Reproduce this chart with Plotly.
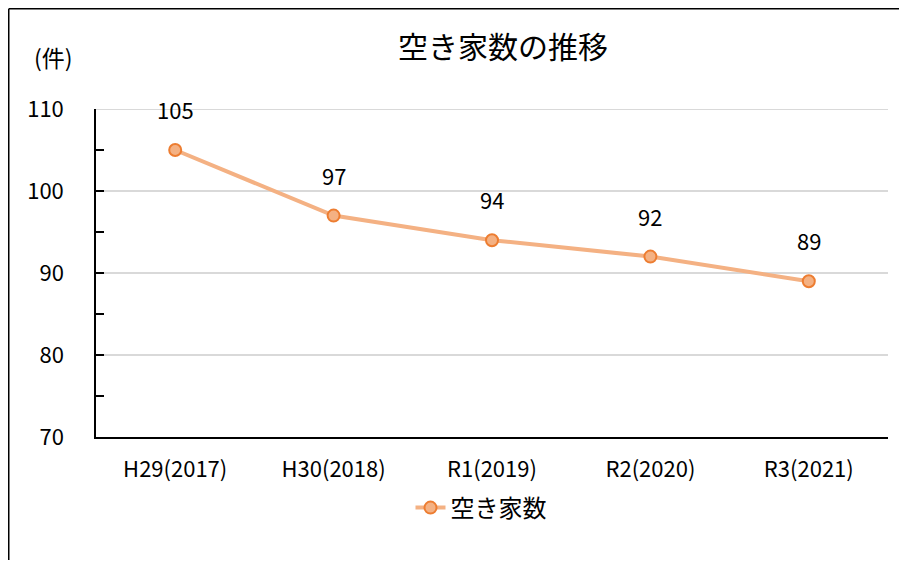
import plotly.graph_objects as go

categories = ["H29(2017)", "H30(2018)", "R1(2019)", "R2(2020)", "R3(2021)"]
values = [105, 97, 94, 92, 89]
series_name = "空き家数"
title_text = "空き家数の推移"
unit_text = "(件)"
y_min, y_max = 70, 110

FONT = "Noto Sans CJK JP"
OFF = 8  # page body margin
W, H = 891, 552
L, R, T = 96 - OFF, W - (888 - OFF), 109 - OFF
B = H - (437 - OFF)
pw, ph = W - L - R, H - T - B

def px_x(sx):
    return (sx - OFF - L) / pw

def px_y(sy):
    return (H - B - (sy - OFF)) / ph

fig = go.Figure()
fig.add_trace(go.Scatter(
    x=categories, y=values, name=series_name, mode="lines+markers",
    line=dict(color="#F4B183", width=4),
    marker=dict(size=12, color="#F4B183", line=dict(color="#ED7D31", width=2)),
))

for c, v in zip(categories, values):
    fig.add_annotation(x=c, y=v, text=str(v), showarrow=False, yshift=41,
                       font=dict(family=FONT, size=22, color="#000"))

fig.add_annotation(xref="paper", yref="paper", x=px_x(53), y=px_y(57), text=unit_text,
                   showarrow=False, xanchor="center", yanchor="middle",
                   font=dict(family=FONT, size=23, color="#000"))

# top gridline at the axis maximum
fig.add_shape(type="line", xref="paper", yref="y", x0=0, x1=1, y0=y_max, y1=y_max,
              line=dict(color="#D9D9D9", width=2), layer="below")

# outer frame (only top and left edges visible)
fig.add_shape(type="line", xref="paper", yref="paper", x0=px_x(8.75), x1=px_x(930),
              y0=px_y(8.75), y1=px_y(8.75), line=dict(color="#000", width=1.5))
fig.add_shape(type="line", xref="paper", yref="paper", x0=px_x(8.75), x1=px_x(8.75),
              y0=px_y(8.75), y1=px_y(600), line=dict(color="#000", width=1.5))

fig.update_layout(
    width=W, height=H, margin=dict(l=L, r=R, t=T, b=B),
    paper_bgcolor="white", plot_bgcolor="white",
    font=dict(family=FONT, size=22, color="#000"),
    title=dict(text=title_text, x=(503 - OFF) / W, xanchor="center",
               y=1 - (47.5 - OFF) / H, yanchor="middle",
               font=dict(family=FONT, size=30, color="#000")),
    showlegend=True,
    legend=dict(orientation="h", x=px_x(481), xanchor="center", y=px_y(508), yanchor="middle",
                font=dict(family=FONT, size=24, color="#000")),
    xaxis=dict(type="category", range=[-0.5, 4.5], showline=True, linecolor="#000", linewidth=1.5,
               showgrid=False, ticks="", tickfont=dict(family=FONT, size=22), ticklabelstandoff=12),
    yaxis=dict(range=[y_min, y_max], dtick=10, showline=True, linecolor="#000", linewidth=1.5,
               showgrid=True, gridcolor="#D9D9D9", gridwidth=2, zeroline=False,
               ticks="inside", ticklen=8, tickcolor="#000", tickwidth=1.5,
               minor=dict(dtick=5, ticks="inside", ticklen=8, tickcolor="#000", tickwidth=1.5, showgrid=False),
               tickfont=dict(family=FONT, size=22), ticklabelstandoff=26),
)

fig.write_html("out.html")
